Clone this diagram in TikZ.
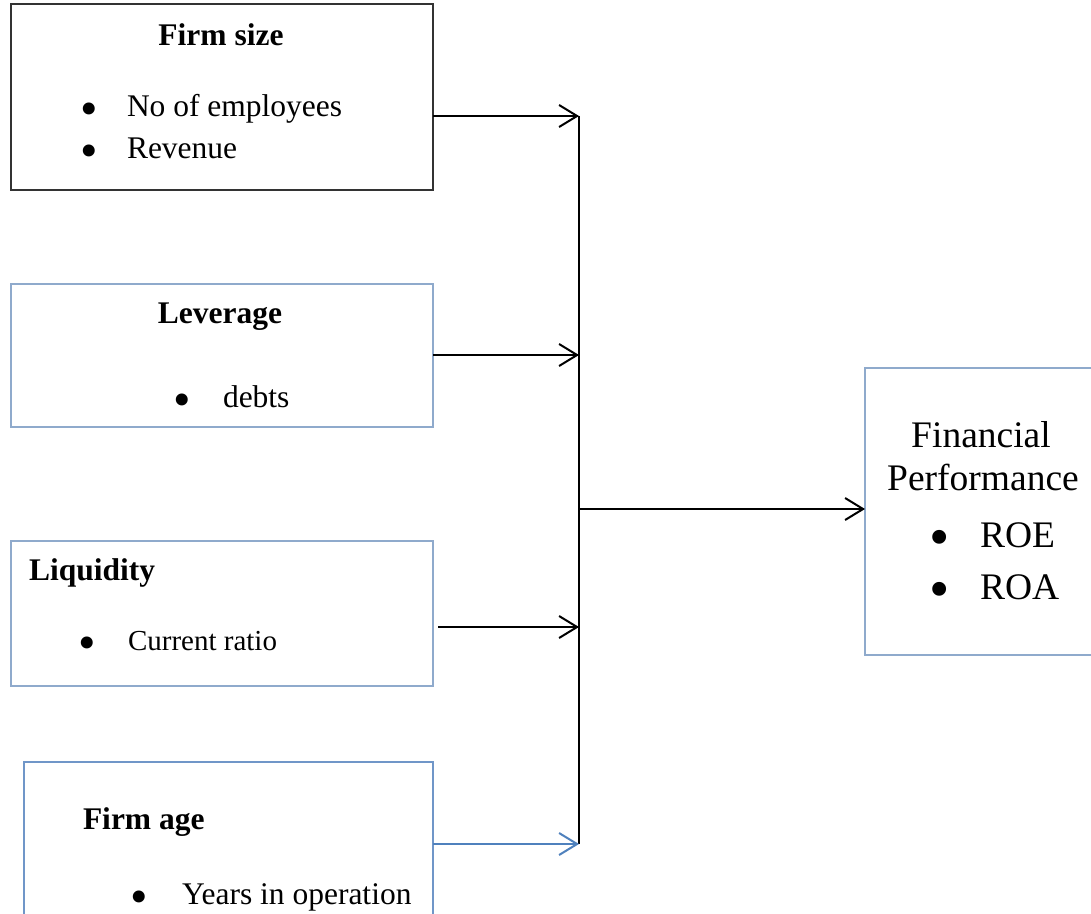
\documentclass[tikz,border=0pt]{standalone}
\usepackage{fontspec}
\setmainfont{Liberation Serif}
\usetikzlibrary{arrows.meta,calc}
\definecolor{boxblue}{HTML}{8FAACC}
\definecolor{boxblueb}{HTML}{7096C8}
\definecolor{arrowblue}{HTML}{4F81BD}
\definecolor{boxdark}{HTML}{333333}
\tikzset{
  box/.style={draw, line width=1.3pt, inner sep=0pt, outer sep=0pt, anchor=north west, fill=none},
  txt/.style={inner sep=0pt, outer sep=0pt, font=\fontsize{31.5}{36}\selectfont},
  ttl/.style={inner sep=0pt, outer sep=0pt, font=\fontsize{31.5}{36}\selectfont\bfseries},
  sml/.style={inner sep=0pt, outer sep=0pt, font=\fontsize{29}{34}\selectfont},
  big/.style={inner sep=0pt, outer sep=0pt, font=\fontsize{37.5}{44}\selectfont},
  bul/.style={inner sep=0pt, outer sep=0pt, anchor=base, font=\fontsize{50}{50}\selectfont, yshift=-9.5pt},
  bulbig/.style={inner sep=0pt, outer sep=0pt, anchor=base, font=\fontsize{58}{58}\selectfont, yshift=-9.5pt},
  conn/.style={line width=2pt, black},
  arr/.style={conn, -{Straight Barb[length=18pt, width=22pt, line width=2pt]}},
}
\begin{document}
\begin{tikzpicture}[x=1pt, y=-1pt]
\clip (0,0) rectangle (1091,913);
\fill[white] (0,0) rectangle (1091,913);
% boxes
\node[box, draw=boxdark, minimum width=422pt, minimum height=186pt] (fs) at (11,4) {};
\node[box, draw=boxblue, minimum width=422pt, minimum height=143pt] (lev) at (11,284) {};
\node[box, draw=boxblue, minimum width=422pt, minimum height=145pt] (liq) at (11,541) {};
\node[box, draw=boxblueb, minimum width=409pt, minimum height=170pt] (age) at (24,762) {};
\node[box, draw=boxblue, minimum width=240pt, minimum height=287pt] (fp) at (865,368) {};
% Firm size
\node[ttl, anchor=base] (fsT) at (221,45) {Firm size};
\node[bul] (fsB1) at (89,116) {•};
\node[txt, anchor=base west] (fs1) at (127,116) {No of employees};
\node[bul] (fsB2) at (89,158) {•};
\node[txt, anchor=base west] (fs2) at (127,158) {Revenue};
% Leverage
\node[ttl, anchor=base] (levT) at (220,323) {Leverage};
\node[bul] (levB) at (182,407) {•};
\node[txt, anchor=base west] (lev1) at (223,407) {debts};
% Liquidity
\node[ttl, anchor=base west] (liqT) at (29,580) {Liquidity};
\node[bul] (liqB) at (87,650) {•};
\node[sml, anchor=base west] (liq1) at (128,650) {Current ratio};
% Firm age
\node[ttl, anchor=base west] (ageT) at (83,829) {Firm age};
\node[bul] (ageB) at (139,904) {•};
\node[txt, anchor=base west] (age1) at (182,904) {Years in operation};
% Financial performance
\node[big, anchor=base] (fpT1) at (981,447) {Financial};
\node[big, anchor=base] (fpT2) at (983,490) {Performance};
\node[bulbig] (fpB1) at (940,547) {•};
\node[big, anchor=base west] (fp1) at (980,547) {ROE};
\node[bulbig] (fpB2) at (940,599) {•};
\node[big, anchor=base west] (fp2) at (980,599) {ROA};
% junctions
\coordinate (j1) at (579,116);
\coordinate (j2) at (579,355);
\coordinate (j3) at (579,627);
\coordinate (j4) at (579,844);
\coordinate (jm) at (579,509);
% connectors
\draw[conn] (j1) -- (j4);
\draw[arr] (fs.east |- j1) -- (j1);
\draw[arr] (lev.east |- j2) -- (j2);
\draw[arr] ($(liq.east |- j3)+(5,0)$) -- (j3);
\draw[arr, draw=arrowblue, color=arrowblue] (age.east |- j4) -- (j4);
\draw[arr] (jm) -- (fp.west |- jm);
\end{tikzpicture}
\end{document}
